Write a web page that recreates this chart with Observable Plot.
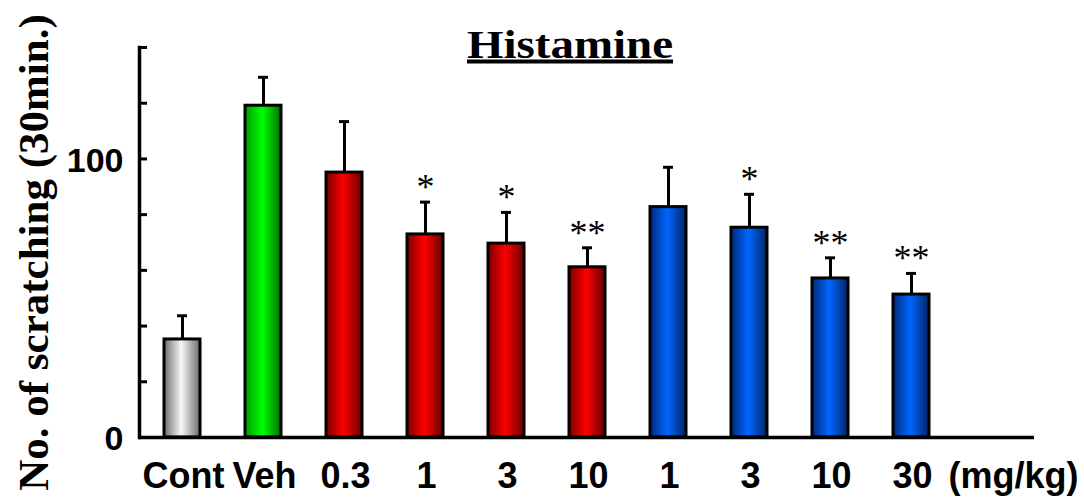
<!DOCTYPE html>
<html><head><meta charset="utf-8">
<script src="https://cdn.jsdelivr.net/npm/d3@7"></script>
<script src="https://cdn.jsdelivr.net/npm/@observablehq/plot@0.6"></script>
<style>
  html,body{margin:0;padding:0;background:#fff;}
  #chart svg{display:block;}
</style>
</head><body><div id="chart"></div>
<script>
// ---- data ----
const slots = [0,1,2,3,4,5,6,7,8,9,10];           // 10 bars + one empty slot at the end
const doseLabels = ["Cont","Veh","0.3","1","3","10","1","3","10","30"];
const unitLabel = "(mg/kg)";
const groups = ["cont","veh","red","red","red","red","blue","blue","blue","blue"];
const means = [35.2,119.1,95.1,72.9,69.6,61.1,82.7,75.3,57.1,51.3];
const sems  = [8.5,10.2,18.3,11.6,11.2,7.0,14.3,12.0,7.4,7.6];
const sigMarks = ["","","","*","*","**","","*","**","**"];
const yTicks = [0,20,40,60,80,100,120,140];
const yLabeled = [0,100];
const titleText = "Histamine";
const yTitle = "No. of scratching (30min.)";
const gradientStops = {
  cont: ["#6c6c6c","#f8f8f8","#6a6a6a"],
  veh:  ["#009a00","#00ff00","#006e00"],
  red:  ["#7a0000","#ff0000","#640000"],
  blue: ["#002a7a","#0066ff","#002466"]
};

const data = means.map((m,i) => ({
  slot: slots[i], label: doseLabels[i], group: groups[i],
  mean: m, upper: m + sems[i], sig: sigMarks[i]
}));

const sans = "Liberation Sans, Arial, sans-serif";
const serif = "Liberation Serif, Times New Roman, serif";

const plot = Plot.plot({
  width: 1084, height: 497,
  marginLeft: 139, marginRight: 50, marginTop: 47, marginBottom: 60,
  style: {background: "white", fontFamily: sans, color: "black"},
  x: {domain: slots, paddingInner: 0.56, paddingOuter: 0.28, insetLeft: 2, insetRight: 2},
  y: {domain: [0, 140]},
  color: {type: "identity"},
  marks: [
    Plot.ruleX(data, {x: "slot", y1: "mean", y2: "upper", stroke: "black", strokeWidth: 3}),
    Plot.tickY(data, {x: "slot", y: "upper", stroke: "black", strokeWidth: 3, insetLeft: 13, insetRight: 13}),
    Plot.barY(data, {x: "slot", y: "mean", fill: d => `url(#grad-${d.group})`, stroke: "black", strokeWidth: 3}),
    Plot.text(data, {x: "slot", y: "upper", text: "sig", lineAnchor: "bottom", dy: -3,
      fontSize: 36, fontFamily: serif, fill: "black"}),
    Plot.frame({anchor: "left", stroke: "black", strokeWidth: 3.5}),
    Plot.ruleY([0], {stroke: "black", strokeWidth: 3.5}),
    Plot.axisY({ticks: yTicks, tickSize: 8, dx: 8, tickFormat: () => "", strokeWidth: 3, label: null}),
    Plot.axisY({ticks: yLabeled, tickSize: 0, tickPadding: 16, dy: 2, fontSize: 34, fontWeight: "bold",
      fontFamily: sans, label: null}),
    Plot.axisX({tickSize: 0, tickPadding: 25, dx: 1, tickFormat: i => doseLabels[i] ?? "",
      fontSize: 36, fontWeight: "bold", fontFamily: sans, label: null}),
    Plot.text([{slot: slots[10], t: unitLabel}], {x: "slot", text: "t", frameAnchor: "bottom",
      lineAnchor: "top", dy: 25, dx: 21, fontSize: 36, fontWeight: "bold", fontFamily: sans, fill: "black"}),
    Plot.text([titleText], {frameAnchor: "top", textAnchor: "middle", lineAnchor: "bottom", dx: -17, dy: 10,
      fontSize: 40, fontWeight: "bold", fontFamily: serif, fill: "black"}),
    Plot.text([yTitle], {frameAnchor: "left", textAnchor: "middle", rotate: -90, dx: -105, dy: 10, lineAnchor: "middle",
      fontSize: 43, fontWeight: "bold", fontFamily: serif, fill: "black"})
  ]
});

// gradient definitions for the bar fills
const svg = d3.select(plot);
const defs = svg.insert("defs", ":first-child");
for (const [key, [c0, c1, c2]] of Object.entries(gradientStops)) {
  const g = defs.append("linearGradient").attr("id", `grad-${key}`)
    .attr("x1", "0%").attr("x2", "100%").attr("y1", "0%").attr("y2", "0%");
  g.append("stop").attr("offset", "0%").attr("stop-color", c0);
  g.append("stop").attr("offset", "48%").attr("stop-color", c1);
  g.append("stop").attr("offset", "100%").attr("stop-color", c2);
}
// underline the title
svg.selectAll("text").filter(function(){ return this.textContent === titleText; })
  .style("text-decoration", "underline")
  .style("text-decoration-thickness", "3px")
  .style("text-underline-offset", "9px")
  .attr("textLength", 206).attr("lengthAdjust", "spacingAndGlyphs");

document.getElementById("chart").appendChild(plot);
</script>
</body></html>
